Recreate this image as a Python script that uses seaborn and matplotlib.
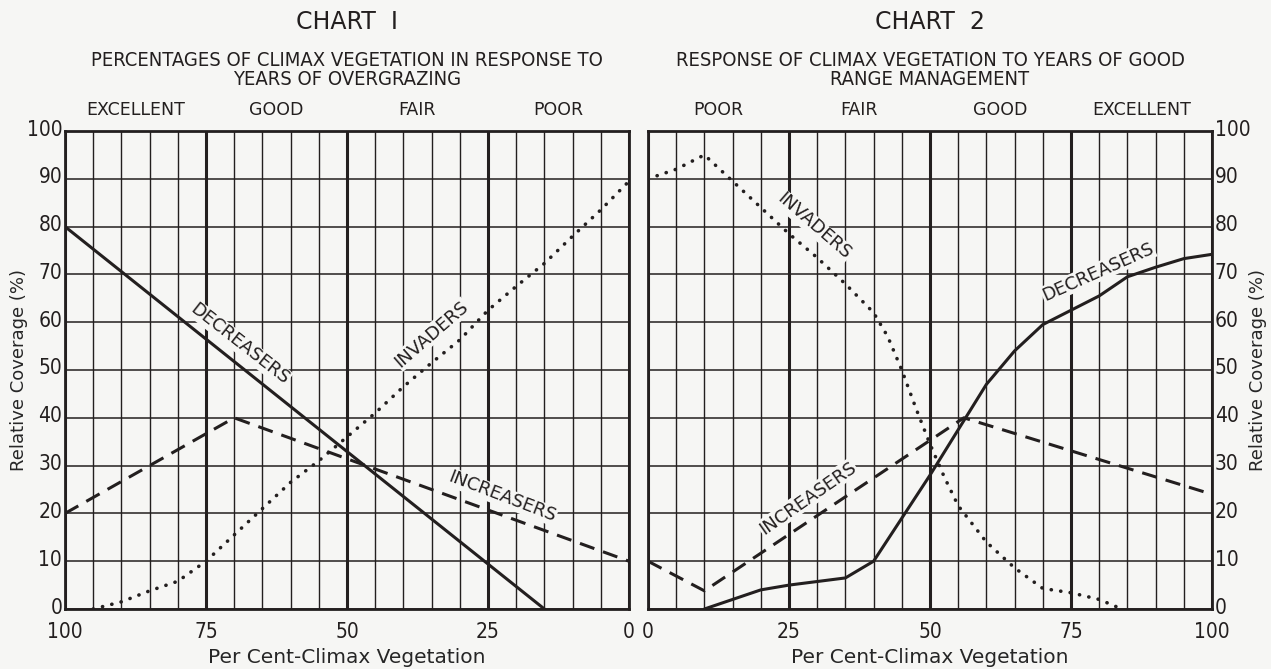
import pandas as pd
import matplotlib
matplotlib.use("Agg")
import matplotlib.pyplot as plt
import matplotlib.transforms as mtransforms
import seaborn as sns

# Chart 1 - overgrazing (x axis runs 100 -> 0)
c1_dec_x = [100, 15]
c1_dec_y = [80, 0]
c1_inc_x = [100, 70, 0]
c1_inc_y = [20, 40, 10]
c1_inv_x = [95, 90, 85, 80, 75, 70, 65, 60, 55, 50, 45, 40, 35, 30, 25, 20, 15, 10, 5, 0]
c1_inv_y = [0, 1.5, 3.8, 5.8, 10, 15.5, 21, 26.5, 31, 36, 41, 46.5, 51.5, 56.3, 62.5, 67.5, 72.3, 78, 83.5, 89.5]

# Chart 2 - good range management (x axis runs 0 -> 100)
c2_dec_x = [10, 20, 25, 35, 40, 45, 50, 55, 60, 65, 70, 75, 80, 85, 90, 95, 100]
c2_dec_y = [0, 4, 5, 6.5, 10, 19, 28, 37.5, 47, 54, 59.5, 62.5, 65.5, 69.5, 71.5, 73.3, 74.2]
c2_inc_x = [0, 10, 56, 100]
c2_inc_y = [10, 3.8, 40, 24]
c2_inv_x = [0, 5, 10, 15, 20, 25, 30, 35, 40, 42.5, 45, 47.5, 50, 52.5, 55, 60, 65, 70, 75, 80, 84]
c2_inv_y = [90, 92, 95, 89.5, 84, 78.5, 73.5, 68, 62, 57, 50, 42, 34.5, 27.7, 21.6, 14, 8.6, 4.3, 3.4, 2, 0]

c1_classes = ["EXCELLENT", "GOOD", "FAIR", "POOR"]
c2_classes = ["POOR", "FAIR", "GOOD", "EXCELLENT"]
class_mid = [12.5, 37.5, 62.5, 87.5]

INK = "#231f1f"
BG = "#f6f6f4"

sns.set_style("white")
plt.rcParams["font.family"] = ["DejaVu Sans"]
plt.rcParams["font.stretch"] = "condensed"
plt.rcParams["axes.edgecolor"] = INK
plt.rcParams["text.color"] = INK

fig = plt.figure(figsize=(12.71, 6.69), dpi=100, facecolor=BG)
ax1 = fig.add_axes([65 / 1271, 60 / 669, 564 / 1271, 478 / 669])
ax2 = fig.add_axes([648 / 1271, 60 / 669, 564 / 1271, 478 / 669])

solid = dict(color=INK, lw=2.2, estimator=None, sort=False, legend=False)
dashed = dict(color=INK, lw=2.2, estimator=None, sort=False, legend=False,
              linestyle=(0, (5.0, 3.0)))
dotted = dict(color=INK, lw=2.6, estimator=None, sort=False, legend=False,
              linestyle=(0, (0.05, 2.6)), dash_capstyle="round")

lift = mtransforms.ScaledTranslation(0, 0.035, fig.dpi_scale_trans)


def frame(x, y):
    return pd.DataFrame({"x": x, "y": y})


def setup(ax, xlim):
    ax.set_facecolor(BG)
    ax.set_xlim(*xlim)
    ax.set_ylim(0, 100)
    ax.set_xticks([0, 25, 50, 75, 100])
    ax.set_xticks(range(0, 101, 5), minor=True)
    ax.set_yticks(range(0, 101, 10))
    ax.grid(which="minor", axis="x", color=INK, lw=1.0)
    ax.grid(which="major", axis="x", color=INK, lw=2.2)
    ax.grid(which="major", axis="y", color=INK, lw=1.1)
    ax.set_axisbelow(True)
    ax.tick_params(which="both", length=0, labelsize=15, colors=INK)
    ax.tick_params(axis="x", pad=9)
    ax.tick_params(axis="y", pad=2)
    for s in ax.spines.values():
        s.set_linewidth(2.0)
        s.set_color(INK)
    ax.set_xlabel("Per Cent-Climax Vegetation", fontsize=14.5, labelpad=5,
                  fontstretch="normal")


def lift_yticks(ax):
    for t in ax.get_yticklabels():
        t.set_transform(t.get_transform() + lift)


def label(ax, x, y, text, rot):
    ax.text(x, y, text, rotation=rot, ha="center", va="center", fontsize=13,
            fontstretch="normal", rotation_mode="anchor",
            bbox=dict(facecolor=BG, edgecolor="none", pad=0.5))


# Chart 1
setup(ax1, (100, 0))
sns.lineplot(data=frame(c1_dec_x, c1_dec_y), x="x", y="y", ax=ax1, **solid)
sns.lineplot(data=frame(c1_inc_x, c1_inc_y), x="x", y="y", ax=ax1, **dashed)
sns.lineplot(data=frame(c1_inv_x, c1_inv_y), x="x", y="y", ax=ax1, **dotted)
ax1.set_ylabel("Relative Coverage (%)", fontsize=13, fontstretch="normal")
ax1.yaxis.set_label_coords(-0.066, 0.5)
lift_yticks(ax1)
label(ax1, 69, 55.5, "DECREASERS", -38)
label(ax1, 35, 57.5, "INVADERS", 41)
label(ax1, 22.5, 23.5, "INCREASERS", -21)

# Chart 2
setup(ax2, (0, 100))
sns.lineplot(data=frame(c2_dec_x, c2_dec_y), x="x", y="y", ax=ax2, **solid)
sns.lineplot(data=frame(c2_inc_x, c2_inc_y), x="x", y="y", ax=ax2, **dashed)
sns.lineplot(data=frame(c2_inv_x, c2_inv_y), x="x", y="y", ax=ax2, **dotted)
ax2.yaxis.tick_right()
ax2.yaxis.set_label_position("right")
ax2.set_ylabel("Relative Coverage (%)", fontsize=13, fontstretch="normal")
ax2.yaxis.set_label_coords(1.065, 0.5)
lift_yticks(ax2)
label(ax2, 29.5, 80, "INVADERS", -41)
label(ax2, 79.8, 70.5, "DECREASERS", 24)
label(ax2, 28.3, 23.2, "INCREASERS", 35)

# headings
for ax, title, sub, classes in [
    (ax1, "CHART  I", "PERCENTAGES OF CLIMAX VEGETATION IN RESPONSE TO\nYEARS OF OVERGRAZING", c1_classes),
    (ax2, "CHART  2", "RESPONSE OF CLIMAX VEGETATION TO YEARS OF GOOD\nRANGE MANAGEMENT", c2_classes),
]:
    ax.text(0.5, 1.228, title, transform=ax.transAxes, ha="center", va="center",
            fontsize=17, fontstretch="normal")
    ax.text(0.5, 1.128, sub, transform=ax.transAxes, ha="center", va="center",
            fontsize=14.5, linespacing=1.0)
    trans = mtransforms.blended_transform_factory(ax.transData, ax.transAxes)
    xs = class_mid if ax is ax2 else [100 - m for m in class_mid]
    for xm, c in zip(xs, classes):
        ax.text(xm, 1.044, c, transform=trans, ha="center", va="center",
                fontsize=12.5, fontstretch="normal")

fig.savefig("out.png", dpi=100, facecolor=BG)
